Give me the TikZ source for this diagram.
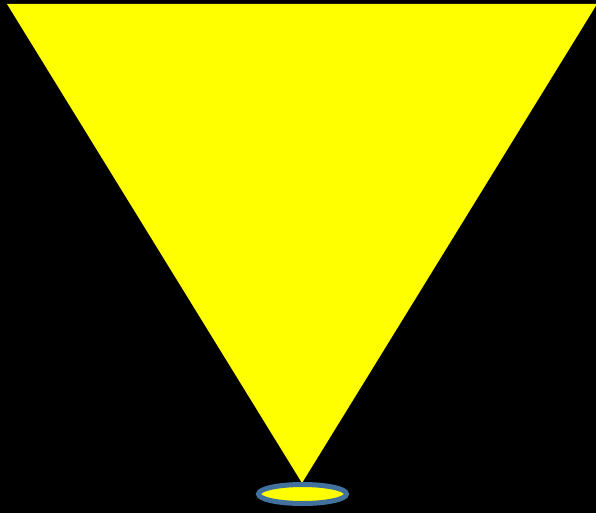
\documentclass[tikz,border=0pt]{standalone}
\usetikzlibrary{shapes.geometric}
\definecolor{rimblue}{HTML}{41719C}
\definecolor{beamyellow}{HTML}{FFFF00}
\definecolor{bgblack}{HTML}{000000}
\begin{document}
\begin{tikzpicture}[x=1pt,y=-1pt,
  beam/.style={fill=beamyellow,draw=none},
  spot/.style={ellipse,fill=beamyellow,draw=rimblue,line width=5pt,inner sep=0pt,minimum width=88pt,minimum height=19pt}]
\fill[bgblack] (0,0) rectangle (596,513);
\useasboundingbox (0,0) rectangle (596,513);
\coordinate (tl) at (7,4);
\coordinate (tr) at (597,4);
\coordinate (apex) at (302,483);
\fill[beam] (tl) -- (tr) -- (apex) -- cycle;
\node[spot] (disc) at (302.5,494) {};
\end{tikzpicture}
\end{document}
